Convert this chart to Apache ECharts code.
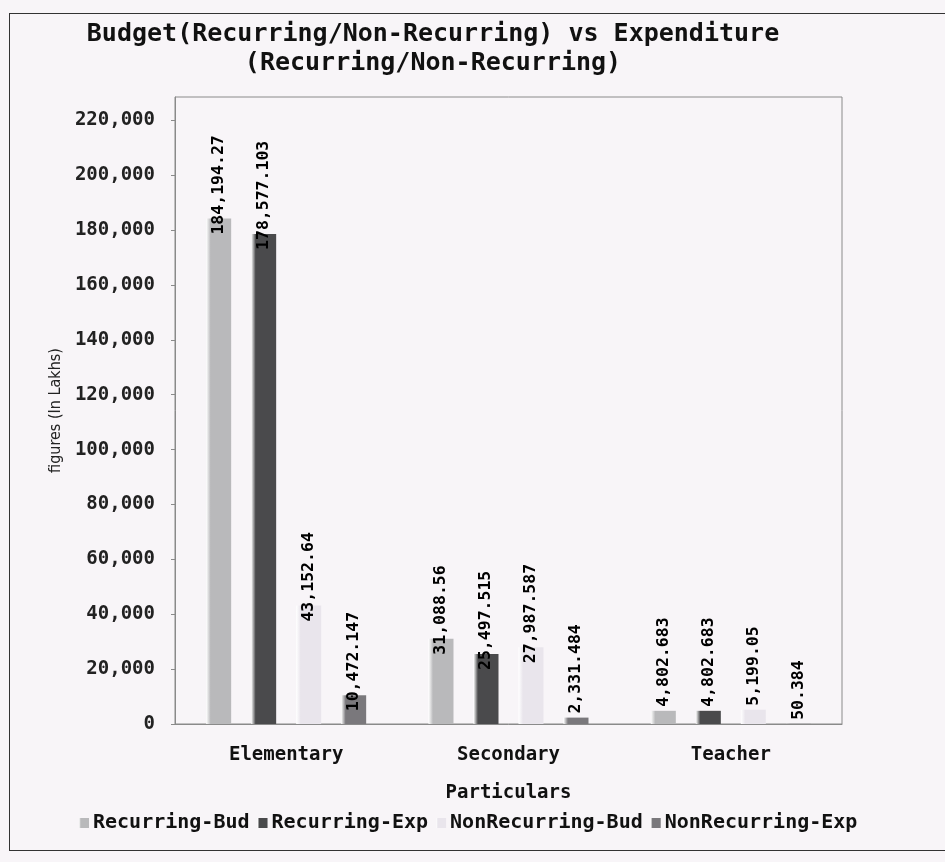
<!DOCTYPE html>
<html>
<head>
<meta charset="utf-8">
<script src="https://cdn.jsdelivr.net/npm/echarts@6/dist/echarts.min.js"></script>
<style>
  html, body { margin: 0; padding: 0; background: #f8f5f8; }
  #frame { position: absolute; left: 9px; top: 13px; width: 960px; height: 838px; border: 1.5px solid #333; box-sizing: border-box; }
  #chart { position: absolute; left: 0; top: 0; width: 945px; height: 862px; }
</style>
</head>
<body>
<div id="frame"></div>
<div id="chart"></div>
<script>
const categories = ['Elementary', 'Secondary', 'Teacher'];
const recurringBud = [184194.27, 31088.56, 4802.683];
const recurringExp = [178577.103, 25497.515, 4802.683];
const nonRecurringBud = [43152.64, 27987.587, 5199.05];
const nonRecurringExp = [10472.147, 2331.484, 50.384];
const seriesNames = ['Recurring-Bud', 'Recurring-Exp', 'NonRecurring-Bud', 'NonRecurring-Exp'];

const mono = '"DejaVu Sans Mono", monospace';
const colors = ['#b9b9bb', '#4a4a4c', '#e9e5ec', '#7a787c'];

function fmt(v) {
  const parts = String(v).split('.');
  parts[0] = parts[0].replace(/\B(?=(\d{3})+(?!\d))/g, ',');
  return parts.join('.');
}

function grad(c) {
  return new echarts.graphic.LinearGradient(0, 0, 1, 0, [
    { offset: 0, color: '#ffffff' },
    { offset: 0.18, color: c },
    { offset: 1, color: c }
  ]);
}

const chart = echarts.init(document.getElementById('chart'));
const dataSets = [recurringBud, recurringExp, nonRecurringBud, nonRecurringExp];

chart.setOption({
  color: colors,
  backgroundColor: 'transparent',
  animation: false,
  title: {
    text: 'Budget(Recurring/Non-Recurring) vs Expenditure\n(Recurring/Non-Recurring)',
    left: 428,
    top: 15,
    textAlign: 'center',
    textStyle: { fontFamily: mono, fontWeight: 'bold', fontSize: 25, lineHeight: 29, color: '#111' }
  },
  legend: {
    data: seriesNames,
    left: 74,
    top: 808,
    icon: 'rect',
    itemWidth: 10,
    itemHeight: 10,
    itemGap: 8,
    textStyle: { fontFamily: mono, fontWeight: 'bold', fontSize: 20, color: '#111', padding: [0, 0, 0, -1] }
  },
  grid: {
    left: 175, right: 103, top: 97, bottom: 138,
    show: true, borderColor: '#8a8a8a', borderWidth: 1, backgroundColor: 'transparent'
  },
  xAxis: {
    type: 'category',
    data: categories,
    name: 'Particulars',
    nameLocation: 'middle',
    nameGap: 60,
    nameTextStyle: { fontFamily: mono, fontWeight: 'bold', fontSize: 19, color: '#111' },
    axisLine: { lineStyle: { color: '#8a8a8a' } },
    axisTick: { show: false },
    axisLabel: { fontFamily: mono, fontWeight: 'bold', fontSize: 19, color: '#111', margin: 22 }
  },
  yAxis: {
    type: 'value',
    min: 0,
    max: 228500,
    interval: 20000,
    name: 'figures (In Lakhs)',
    nameLocation: 'middle',
    nameGap: 108,
    nameTextStyle: { fontFamily: '"DejaVu Sans Condensed", "DejaVu Sans", sans-serif', fontSize: 16, color: '#222' },
    axisLine: { show: true, lineStyle: { color: '#8a8a8a' } },
    axisTick: { show: true, length: 4, lineStyle: { color: '#8a8a8a' } },
    splitLine: { show: false },
    axisLabel: {
      fontFamily: mono, fontWeight: 'bold', fontSize: 19, color: '#222', margin: 20,
      showMaxLabel: false,
      formatter: v => fmt(v)
    }
  },
  series: seriesNames.map((name, i) => ({
    name: name,
    type: 'bar',
    data: dataSets[i].map(v => ({
      value: v,
      label: { distance: v > 9000 ? -16 : 4 }
    })),
    barWidth: 25,
    barGap: '80%',
    itemStyle: { color: grad(colors[i]) },
    label: {
      show: true,
      position: 'top',
      rotate: 90,
      align: 'left',
      verticalAlign: 'middle',
      fontFamily: mono,
      fontWeight: 'bold',
      fontSize: 16.5,
      color: '#000',
      formatter: p => fmt(p.value)
    }
  }))
});
</script>
</body>
</html>
